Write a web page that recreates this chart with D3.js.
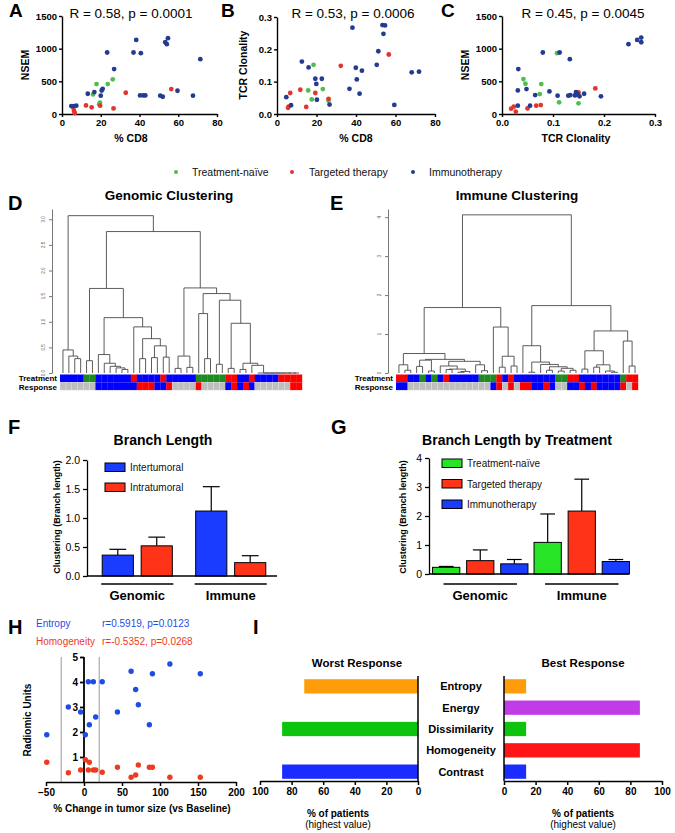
<!DOCTYPE html>
<html><head><meta charset="utf-8">
<script src="https://cdn.jsdelivr.net/npm/d3@7/dist/d3.min.js"></script>
<style>
html,body{margin:0;padding:0;background:#fff;}
svg text{font-family:"Liberation Sans",Arial,Helvetica,sans-serif;}
</style></head><body>
<svg id="fig" width="675" height="833"></svg>
<script>
// ================= DATA =================
const groupNames = ["Treatment-naïve", "Targeted therapy", "Immunotherapy"];

// Panel A: % CD8 vs NSEM
const cd8NsemNaive = [[16,300],[17.8,458],[19.2,150],[19.6,172],[23.6,458],[26.2,530]];
const cd8NsemTargeted = [[5.9,92],[6.2,45],[6.6,15],[12.4,132],[15.3,102],[19.7,127],[26.6,86],[32.9,325],[56.4,381]];
const cd8NsemImmuno = [[4.8,122],[6,122],[7.4,127],[13.3,310],[16.7,336],[20,280],[20.5,360],[21,385],[23.3,941],[26.9,687],[36.9,941],[38.3,1134],[40.7,931],[40.3,285],[42,285],[43,285],[50.7,280],[52,264],[53.3,1098],[54.1,1068],[54.7,1160],[59.6,356],[67.6,280],[71.4,839]];

// Panel B: % CD8 vs TCR clonality
const cd8TcrNaive = [[18.5,.152],[15.8,.073],[17.6,.045],[23.2,.077],[26.1,.041]];
const cd8TcrTargeted = [[5.6,.019],[5.9,.023],[6.7,.065],[11.8,.075],[14.8,.022],[19.4,.065],[26.1,.047],[32.3,.149],[56.6,.184]];
const cd8TcrImmuno = [[4.7,.052],[7.1,.027],[12.6,.162],[16,.144],[19.4,.109],[19.9,.093],[20.2,.044],[22.7,.109],[26.6,.029],[36.7,.078],[38.2,.267],[39.9,.143],[40.4,.107],[41.8,.063],[43,.134],[50.5,.152],[51.3,.194],[53.4,.275],[53.9,.248],[54.7,.274],[59.4,.028],[68.2,.129],[71.9,.131]];

// Panel C: TCR clonality vs NSEM
const tcrNsemNaive = [[.042,534],[.046,463],[.074,305],[.077,458],[.108,931],[.112,178],[.15,163]];
const tcrNsemTargeted = [[.018,81],[.023,112],[.027,36],[.05,86],[.067,127],[.076,137],[.15,330],[.183,392]];
const tcrNsemImmuno = [[.031,127],[.032,687],[.031,361],[.048,381],[.055,127],[.065,290],[.080,941],[.093,346],[.109,280],[.113,941],[.13,280],[.134,290],[.133,839],[.143,285],[.145,336],[.149,300],[.152,270],[.161,310],[.194,270],[.248,1068],[.265,1134],[.273,1170],[.273,1098]];

const rTitles = ["R = 0.58, p = 0.0001", "R = 0.53, p = 0.0006", "R = 0.45, p = 0.0045"];

// Panel D: genomic dendrogram  node = [height, left, right], leaf = index
const gChain = [0, 33, [0, 34, [0, 35, [0, 36, [0, 37, [0, 38, [0, 39, 40]]]]]]];
const gLeft = [0.45, 0, [0.33, 1, [0.28, 2, 3]]];
const gMidA = [0.36, 6, [0.19, 7, [0.13, 8, [0.10, 9, [0.07, 10, 11]]]]];
const gMidB = [0.90, 12, [0.67, [0.28, 13, 14], [0.53, [0.30, 15, 16], [0.31, 17, 18]]]];
const gMid = [1.65, [0.24, 4, 5], [1.08, gMidA, gMidB]];
const gRightTail = [0.19, [0.07, 30, 31], [0.15, 32, gChain]];
const gRight = [1.66, [0.33, [0.09, 19, 20], [0.11, 21, 22]], [1.55, [1.16, 23, [0.28, 24, 25]], [1.42, [0.17, 26, 27], [0.97, [0.09, 28, 29], gRightTail]]]];
const genomicTree = [3.07, gLeft, [2.76, gMid, gRight]];
const genomicTicks = [0, 0.5, 1, 1.5, 2, 2.5, 3];
const genomicTreatment = ["B","B","B","B","G","G","B","B","B","B","B","B","R","B","B","B","B","R","B","B","B","B","B","G","G","G","G","G","R","R","B","B","R","B","B","B","B","R","R","R","R"];
const genomicResponse  = ["N","N","N","N","N","N","B","B","B","B","B","B","B","R","R","R","B","B","R","N","N","N","N","R","N","N","N","N","B","R","B","R","B","N","N","N","N","N","N","R","R"];

// Panel E: immune dendrogram
const iA = [0.21, 0, [0.07, 1, 2]];
const iB = [0.33, [0.17, 3, 4], [0.05, 5, 6]];
const iC = [0.30, [0.18, 7, [0.10, [0.09, 8, 9], [0.04, [0.02, 10, 11], 12]]], [0.21, 13, [0.06, 14, 15]]];
const iLeft = [1.68, [0.50, iA, [0.35, iB, iC]], [1.18, 16, [0.43, [0.15, 17, 18], [0.18, 19, 20]]]];
const iR1 = [0.70, 21, [0.28, [0.02, 22, 23], [0.22, 24, [0.16, [0.07, 25, 26], [0.12, [0.05, 27, 28], [0.07, 29, 30]]]]]];
const iR2 = [1.08, [0.57, [0.10, 31, 32], [0.21, [0.15, 33, 34], [0.05, 35, [0.02, 36, 37]]]], [0.82, 38, [0.18, 39, 40]]];
const immuneTree = [4.06, iLeft, [1.73, iR1, iR2]];
const immuneTicks = [0, 1, 2, 3, 4];
const immuneTreatment = ["R","R","B","B","G","B","G","B","R","B","B","B","B","B","G","G","G","R","B","R","B","B","B","B","B","B","B","G","G","R","R","B","B","B","B","B","B","B","G","R","R"];
const immuneResponse  = ["B","B","N","N","N","N","N","N","N","N","N","N","N","N","N","N","B","R","N","R","N","R","R","B","B","R","B","N","N","B","B","R","B","R","B","B","B","B","R","N","R"];

// Panel F
const branchGroups = ["Genomic", "Immune"];
const branchSeries = ["Intertumoral", "Intratumoral"];
const interMean = [0.36, 1.12], interSEM = [0.10, 0.42];
const intraMean = [0.52, 0.23], intraSEM = [0.15, 0.12];
const branchTicks = [0, 0.5, 1.0, 1.5, 2.0];

// Panel G
const naiveMean = [0.23, 1.09], naiveSEM = [0.03, 0.98];
const targetedMean = [0.46, 2.17], targetedSEM = [0.37, 1.10];
const immunoMean = [0.35, 0.43], immunoSEM = [0.15, 0.07];
const treatTicks = [0, 1, 2, 3, 4];

// Panel H
const tumorChange = [-49, -20.6, -4.4, 1.8, 5.7, 7, 12.3, 15.4, 24, 44, 62, 68, 71.5, 86, 90, 113, 153];
const entropyVals = [1.89, 3.0, 2.8, 1.89, 4.01, 2.29, 4.01, 2.6, 4.01, 2.8, 4.43, 3.7, 3.09, 2.29, 4.33, 4.72, 4.33];
const homogeneityVals = [0.79, 0.37, 0.48, 0.89, 0.48, 0.79, 0.48, 0.48, 0.39, 0.59, 0.19, 0.28, 0.68, 0.59, 0.59, 0.19, 0.19];
const hXTicks = [-50, 0, 50, 100, 150, 200];
const hYTicks = [1, 2, 3, 4, 5];
const hCutoffs = [-30, 20];

// Panel I
const radiomicFeatures = ["Entropy", "Energy", "Dissimilarity", "Homogeneity", "Contrast"];
const worstPct = [72, 0, 86, 0, 86];
const bestPct = [14, 86, 14, 86, 14];
const pctTicks = [0, 20, 40, 60, 80, 100];

// ================= STYLE =================
const FF = '"Liberation Sans", Arial, Helvetica, sans-serif';
const dotColors = ["#4fbd4f", "#e2352c", "#243c90"];
const stripColors = {B: "#0000ff", G: "#1f8a1f", R: "#ff0000", N: "#bebebe"};
const fColors = ["#1a3cff", "#ff3318"];
const gColors = ["#27e427", "#ff3318", "#1a3cff"];
const hColors = ["#1f4be6", "#ee3a1e"];
const iColors = ["#ff9c0a", "#bf3ce6", "#0cc40c", "#ff1515", "#1a2cff"];

const svg = d3.select("#fig");

function label(x, y, s, o = {}) {
  const t = svg.append("text").attr("x", x).attr("y", y).text(s)
    .attr("font-size", o.size || 10).attr("font-weight", o.bold ? "bold" : "normal")
    .attr("text-anchor", o.anchor || "start").attr("fill", o.fill || "#000");
  if (o.rotate) t.attr("transform", `rotate(${o.rotate},${x},${y})`);
  return t;
}
function styleAxis(a, size, bold, width) {
  a.attr("font-family", FF);
  a.selectAll("path, line").attr("stroke", "#000").attr("stroke-width", width || 1.4);
  a.selectAll("text").attr("font-size", size).attr("font-weight", bold ? "bold" : "normal").attr("fill", "#000");
}

// ================= PANELS A-C =================
function scatter(o) {
  const x = d3.scaleLinear().domain(o.xDom).range(o.xR);
  const y = d3.scaleLinear().domain(o.yDom).range(o.yR);
  const xa = svg.append("g").attr("transform", `translate(0,${o.yR[0]})`)
    .call(d3.axisBottom(x).tickValues(o.xTicks).tickFormat(o.xFmt).tickSize(3).tickSizeOuter(0).tickPadding(2));
  const ya = svg.append("g").attr("transform", `translate(${o.xR[0]},0)`)
    .call(d3.axisLeft(y).tickValues(o.yTicks).tickFormat(o.yFmt).tickSize(3).tickSizeOuter(0).tickPadding(2));
  styleAxis(xa, 9.5, true, 1.4); styleAxis(ya, 9.5, true, 1.4);
  o.series.forEach((s, i) => {
    svg.append("g").selectAll("circle").data(s).join("circle")
      .attr("cx", d => x(d[0])).attr("cy", d => y(d[1])).attr("r", 2.4).attr("fill", dotColors[i]);
  });
  label(o.titleX, 18, o.title, {size: 13.5, anchor: "middle"});
  label(o.letterX, 17, o.letter, {size: 19, bold: true});
  label(o.xLabX, 142, o.xLab, {size: 10.5, bold: true, anchor: "middle"});
  label(o.yLabX, 65, o.yLab, {size: 10.5, bold: true, anchor: "middle", rotate: -90});
}
const f1 = d3.format(".1f");
scatter({xDom: [0, 80], yDom: [0, 1500], xR: [62, 217], yR: [114, 16],
  xTicks: [0, 20, 40, 60, 80], yTicks: [0, 500, 1000, 1500], xFmt: d3.format("d"), yFmt: d3.format("d"),
  series: [cd8NsemNaive, cd8NsemTargeted, cd8NsemImmuno], title: rTitles[0], titleX: 131,
  letter: "A", letterX: 9, xLab: "% CD8", xLabX: 131, yLab: "NSEM", yLabX: 29});
scatter({xDom: [0, 80], yDom: [0, 0.3], xR: [277, 435], yR: [114, 17],
  xTicks: [0, 20, 40, 60, 80], yTicks: [0, 0.1, 0.2, 0.3], xFmt: d3.format("d"), yFmt: f1,
  series: [cd8TcrNaive, cd8TcrTargeted, cd8TcrImmuno], title: rTitles[1], titleX: 353,
  letter: "B", letterX: 221, xLab: "% CD8", xLabX: 356, yLab: "TCR Clonality", yLabX: 247});
scatter({xDom: [0, 0.3], yDom: [0, 1500], xR: [502, 655], yR: [114, 16],
  xTicks: [0, 0.1, 0.2, 0.3], yTicks: [0, 500, 1000, 1500], xFmt: f1, yFmt: d3.format("d"),
  series: [tcrNsemNaive, tcrNsemTargeted, tcrNsemImmuno], title: rTitles[2], titleX: 583,
  letter: "C", letterX: 441, xLab: "TCR Clonality", xLabX: 576, yLab: "NSEM", yLabX: 469});

// legend
[[176, 192], [292, 309], [413, 429]].forEach((p, i) => {
  svg.append("circle").attr("cx", p[0]).attr("cy", 172).attr("r", 2).attr("fill", dotColors[i]);
  label(p[1], 176, groupNames[i], {size: 10.5, fill: "#111"});
});

// ================= PANELS D-E =================
function dendroPanel(o) {
  const n = o.treatment.length;
  const xb = d3.scaleBand().domain(d3.range(n)).range(o.xR);
  const y = d3.scaleLinear().domain(o.yDom).range([373, 209]);
  const root = d3.hierarchy(o.tree, d => Array.isArray(d) ? d.slice(1) : null);
  root.eachAfter(nd => {
    if (!nd.children) { nd.px = xb(nd.data) + xb.bandwidth() / 2; nd.h = 0; }
    else { nd.px = (nd.children[0].px + nd.children[1].px) / 2; nd.h = nd.data[0]; }
  });
  let p = "";
  root.each(nd => {
    if (!nd.children) return;
    const [a, b] = nd.children;
    p += `M${a.px},${y(a.h)}V${y(nd.h)}H${b.px}V${y(b.h)}`;
  });
  svg.append("path").attr("d", p).attr("fill", "none").attr("stroke", "#4a4a4a").attr("stroke-width", 0.9);
  const ax = svg.append("g").attr("transform", `translate(${o.axisX},0)`)
    .call(d3.axisLeft(y).tickValues(o.ticks).tickSize(3).tickSizeOuter(0).tickFormat(""));
  ax.selectAll("path,line").attr("stroke", "#555").attr("stroke-width", 0.8);
  o.ticks.forEach(t => label(o.axisX - 7, y(t), o.fmt(t), {size: 4.5, anchor: "middle", rotate: -90, fill: "#555"}));
  const rows = [[o.treatment, 374.5], [o.response, 382.3]];
  rows.forEach(([arr, y0]) => {
    svg.append("g").selectAll("rect").data(arr).join("rect")
      .attr("x", (d, i) => xb(i)).attr("y", y0).attr("width", xb.bandwidth() + 0.2).attr("height", 7.8)
      .attr("fill", d => stripColors[d])
      .attr("stroke", d => d === "N" ? "#e6e6e6" : "none").attr("stroke-width", 0.4);
  });
  label(o.xR[0] - 3, 381, "Treatment", {size: 8, bold: true, anchor: "end"});
  label(o.xR[0] - 3, 389.5, "Response", {size: 8, bold: true, anchor: "end"});
  label(o.titleX, 200, o.title, {size: 13.5, bold: true, anchor: "middle"});
  label(o.letterX, 210, o.letter, {size: 20, bold: true});
}
dendroPanel({tree: genomicTree, treatment: genomicTreatment, response: genomicResponse,
  xR: [60, 302], yDom: [0, 3.2], axisX: 52, ticks: genomicTicks, fmt: d3.format(".1f"),
  title: "Genomic Clustering", titleX: 169, letter: "D", letterX: 8});
dendroPanel({tree: immuneTree, treatment: immuneTreatment, response: immuneResponse,
  xR: [396, 638], yDom: [0, 4.21], axisX: 388, ticks: immuneTicks, fmt: d3.format("d"),
  title: "Immune Clustering", titleX: 517, letter: "E", letterX: 330});

// ================= PANELS F-G =================
function barPanel(o) {
  const x0 = d3.scaleBand().domain(branchGroups).range(o.xR).paddingInner(o.pIn).paddingOuter(o.pOut);
  const x1 = d3.scaleBand().domain(o.series).range([0, x0.bandwidth()]).paddingInner(0.2);
  const y = d3.scaleLinear().domain(o.yDom).range(o.yR);
  o.series.forEach((s, si) => {
    branchGroups.forEach((gname, gi) => {
      const m = o.means[si][gi], e = o.sems[si][gi];
      const bx = x0(gname) + x1(s), bw = x1.bandwidth(), cx = bx + bw / 2;
      svg.append("line").attr("x1", cx).attr("x2", cx).attr("y1", y(m)).attr("y2", y(m + e)).attr("stroke", "#000").attr("stroke-width", 1.2);
      svg.append("line").attr("x1", cx - bw * 0.27).attr("x2", cx + bw * 0.27).attr("y1", y(m + e)).attr("y2", y(m + e)).attr("stroke", "#000").attr("stroke-width", 1.2);
      svg.append("rect").attr("x", bx).attr("y", y(m)).attr("width", bw).attr("height", y(0) - y(m))
        .attr("fill", o.colors[si]).attr("stroke", "#000").attr("stroke-width", 1);
    });
  });
  const ya = svg.append("g").attr("transform", `translate(${o.axisX},0)`)
    .call(d3.axisLeft(y).tickValues(o.ticks).tickFormat(o.fmt).tickSize(4).tickSizeOuter(0).tickPadding(3));
  styleAxis(ya, 10.5, false, 1.3);
  svg.append("line").attr("x1", o.axisX).attr("x2", o.xEnd).attr("y1", y(0)).attr("y2", y(0)).attr("stroke", "#000").attr("stroke-width", 1.3);
  branchGroups.forEach(gname => {
    const a = x0(gname) + o.inset, b = x0(gname) + x0.bandwidth() - o.inset;
    svg.append("line").attr("x1", a).attr("x2", b).attr("y1", 584).attr("y2", 584).attr("stroke", "#000").attr("stroke-width", 1.6);
    label((a + b) / 2, 600, gname, {size: 13, bold: true, anchor: "middle"});
  });
  o.series.forEach((s, si) => {
    const ly = o.legY + si * o.legStep;
    svg.append("rect").attr("x", o.legX).attr("y", ly).attr("width", 20).attr("height", 8.5)
      .attr("fill", o.colors[si]).attr("stroke", "#000").attr("stroke-width", 1);
    label(o.legX + 25, ly + 8, s, {size: 10, fill: "#111"});
  });
  label(o.ylabX, 517, "Clustering (Branch length)", {size: 9, bold: true, anchor: "middle", rotate: -90});
  label(o.titleX, 445, o.title, {size: 14, bold: true, anchor: "middle"});
  label(o.letterX, 434, o.letter, {size: 20, bold: true});
}
barPanel({series: branchSeries, means: [interMean, intraMean], sems: [interSEM, intraSEM], colors: fColors,
  xR: [91, 277], pIn: 0.25, pOut: 0.12, yDom: [0, 2], yR: [576, 460], ticks: branchTicks, fmt: d3.format(".1f"),
  axisX: 87, xEnd: 277, inset: -1, legX: 105, legY: 463, legStep: 20, ylabX: 60,
  title: "Branch Length", titleX: 163, letter: "F", letterX: 8});
barPanel({series: groupNames, means: [naiveMean, targetedMean, immunoMean], sems: [naiveSEM, targetedSEM, immunoSEM], colors: gColors,
  xR: [430, 632], pIn: 0.06, pOut: 0.025, yDom: [0, 4], yR: [574, 458], ticks: treatTicks, fmt: d3.format("d"),
  axisX: 429, xEnd: 629, inset: 11, legX: 442, legY: 459, legStep: 20.5, ylabX: 406,
  title: "Branch Length by Treatment", titleX: 517, letter: "G", letterX: 331});

// ================= PANEL H =================
{
  const x = d3.scaleLinear().domain([-50, 200]).range([46, 236]);
  const y = d3.scaleLinear().domain([0, 5]).range([782, 657]);
  hCutoffs.forEach(c => svg.append("line").attr("x1", x(c)).attr("x2", x(c)).attr("y1", y(5)).attr("y2", y(0))
    .attr("stroke", "#9a9a9a").attr("stroke-width", 1));
  const xa = svg.append("g").attr("transform", `translate(0,${y(0)})`)
    .call(d3.axisBottom(x).tickValues(hXTicks).tickFormat(d3.format("d")).tickSize(4).tickSizeOuter(0).tickPadding(3));
  styleAxis(xa, 10, true, 1.5);
  const ya = svg.append("g").attr("transform", `translate(${x(0)},0)`)
    .call(d3.axisLeft(y).tickValues(hYTicks).tickFormat(d3.format("d")).tickSize(4).tickSizeOuter(0).tickPadding(2));
  styleAxis(ya, 10, true, 1.8);
  ya.select("path").attr("d", `M0,${y(5)}V${y(0)}`);
  [entropyVals, homogeneityVals].forEach((vals, k) => {
    svg.append("g").selectAll("circle").data(vals).join("circle")
      .attr("cx", (d, i) => x(tumorChange[i])).attr("cy", d => y(d)).attr("r", 2.7).attr("fill", hColors[k]);
  });
  label(36, 627, "Entropy", {size: 10, fill: hColors[0]});
  label(102, 627, "r=0.5919, p=0.0123", {size: 10, fill: hColors[0]});
  label(36, 645, "Homogeneity", {size: 10, fill: hColors[1]});
  label(102, 645, "r=-0.5352, p=0.0268", {size: 10, fill: hColors[1]});
  label(142, 812, "% Change in tumor size (vs Baseline)", {size: 10, bold: true, anchor: "middle"});
  label(31, 720, "Radiomic Units", {size: 10, bold: true, anchor: "middle", rotate: -90});
  label(8, 634, "H", {size: 20, bold: true});
}

// ================= PANEL I =================
{
  const yb = d3.scaleBand().domain(radiomicFeatures).range([676, 782]).paddingInner(0.33).paddingOuter(0.15);
  const xL = d3.scaleLinear().domain([0, 100]).range([418, 260]);
  const xR = d3.scaleLinear().domain([0, 100]).range([504, 662]);
  svg.append("g").selectAll("rect").data(worstPct).join("rect")
    .attr("x", d => xL(d)).attr("width", d => xL(0) - xL(d))
    .attr("y", (d, i) => yb(radiomicFeatures[i])).attr("height", yb.bandwidth())
    .attr("fill", (d, i) => iColors[i]);
  svg.append("g").selectAll("rect").data(bestPct).join("rect")
    .attr("x", xR(0)).attr("width", d => xR(d) - xR(0))
    .attr("y", (d, i) => yb(radiomicFeatures[i])).attr("height", yb.bandwidth())
    .attr("fill", (d, i) => iColors[i]);
  [xL, xR].forEach(sc => {
    const a = svg.append("g").attr("transform", "translate(0,781)")
      .call(d3.axisBottom(sc).tickValues(pctTicks).tickFormat(d3.format("d")).tickSize(4).tickSizeOuter(0).tickPadding(3));
    styleAxis(a, 10, true, 1.5);
    svg.append("line").attr("x1", sc(0)).attr("x2", sc(0)).attr("y1", 676).attr("y2", 781).attr("stroke", "#000").attr("stroke-width", 1.5);
  });
  radiomicFeatures.forEach(f => label(461, yb(f) + yb.bandwidth() / 2 + 4, f, {size: 11, bold: true, anchor: "middle"}));
  label(357, 667, "Worst Response", {size: 11.5, bold: true, anchor: "middle"});
  label(583, 667, "Best Response", {size: 11.5, bold: true, anchor: "middle"});
  [338, 583].forEach(cx => {
    label(cx, 817, "% of patients", {size: 10, bold: true, anchor: "middle"});
    label(cx, 828, "(highest value)", {size: 10, anchor: "middle"});
  });
  label(253, 634, "I", {size: 20, bold: true});
}
</script></body></html>
